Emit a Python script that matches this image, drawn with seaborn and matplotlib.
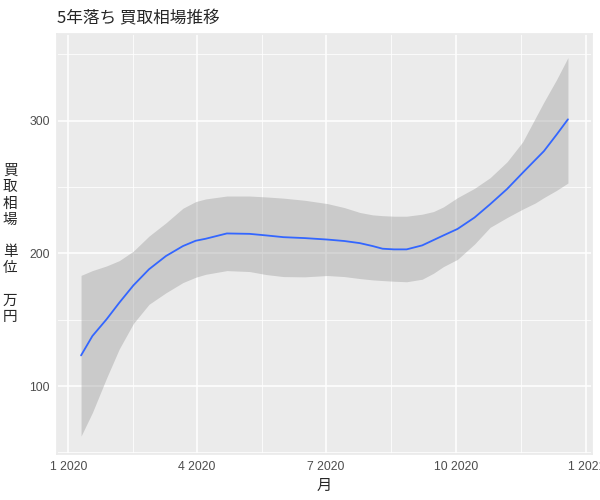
import pandas as pd
import seaborn as sns
import matplotlib.pyplot as plt
import matplotlib.dates as mdates
from matplotlib.ticker import FixedLocator

# loess fit and 95% band
dates = ["2020-01-10", "2020-01-18", "2020-01-28", "2020-02-06", "2020-02-16",
         "2020-02-27", "2020-03-10", "2020-03-22", "2020-03-31", "2020-04-07",
         "2020-04-22", "2020-05-08", "2020-05-20", "2020-06-01", "2020-06-16",
         "2020-07-02", "2020-07-14", "2020-07-25", "2020-08-03", "2020-08-10",
         "2020-08-18", "2020-08-27", "2020-09-07", "2020-09-15", "2020-09-22",
         "2020-10-02", "2020-10-14", "2020-10-25", "2020-11-06", "2020-11-17",
         "2020-11-26", "2020-12-02", "2020-12-11", "2020-12-19"]
fit = [123.1, 137.7, 150.3, 162.8, 175.9, 188.0, 198.0, 205.5, 209.5, 211.0,
       215.0, 214.7, 213.5, 212.2, 211.5, 210.4, 209.3, 207.7, 205.5, 203.5,
       203.0, 203.0, 206.0, 210.0, 213.5, 218.4, 227.0, 237.0, 248.5, 260.7,
       270.5, 277.0, 289.5, 301.0]
lower = [62.3, 80.0, 106.0, 128.0, 147.2, 161.6, 170.3, 178.0, 182.0, 184.2,
         187.0, 186.3, 184.0, 182.5, 182.3, 183.3, 182.5, 181.0, 180.0, 179.5,
         179.0, 178.6, 180.5, 185.0, 190.0, 195.5, 207.0, 219.6, 227.0, 233.3,
         238.0, 242.0, 247.5, 253.0]
upper = [183.4, 187.0, 190.5, 194.5, 201.7, 213.0, 223.0, 234.0, 239.0, 241.0,
         243.2, 243.2, 242.5, 241.6, 240.0, 237.5, 234.5, 230.8, 229.0, 228.4,
         228.0, 228.0, 229.5, 231.5, 235.0, 242.0, 249.0, 257.0, 269.0, 284.0,
         302.0, 314.0, 331.0, 347.5]

df = pd.DataFrame({"月": pd.to_datetime(dates), "fit": fit, "lo": lower, "hi": upper})

sns.set_theme(style="darkgrid", rc={
    "axes.facecolor": "#EBEBEB",
    "grid.color": "white",
    "axes.edgecolor": "#EBEBEB",
})
plt.rcParams['font.family'] = ['Noto Sans CJK JP', 'DejaVu Sans']

fig, ax = plt.subplots(figsize=(6, 5), dpi=100)
fig.subplots_adjust(left=57/600, right=592/600, top=1-34/500, bottom=1-454/500)

ax.fill_between(df["月"], df["lo"], df["hi"], color="#999999", alpha=0.4, linewidth=0)
sns.lineplot(data=df, x="月", y="fit", color="#3366FF", linewidth=1.3, ax=ax)

ax.set_xlim(pd.Timestamp("2019-12-24"), pd.Timestamp("2021-01-05"))
ax.set_ylim(48.8, 365.3)

major = pd.to_datetime(["2020-01-01", "2020-04-01", "2020-07-01", "2020-10-01", "2021-01-01"])
mnum = mdates.date2num(major)
ax.xaxis.set_major_locator(FixedLocator(mnum))
ax.xaxis.set_minor_locator(FixedLocator((mnum[:-1] + mnum[1:]) / 2))
ax.set_xticklabels([f"{d.month} {d.year}" for d in major])
ax.set_yticks([100, 200, 300])
ax.yaxis.set_minor_locator(FixedLocator([50, 150, 250, 350]))

ax.grid(which="major", color="white", linewidth=1.1)
ax.grid(which="minor", color="white", linewidth=0.55)
ax.tick_params(which="major", length=3, width=0.8, color="#333333",
               labelsize=8.8, labelcolor="#4D4D4D", pad=2)
ax.tick_params(which="minor", length=0)
for lab in ax.get_xticklabels() + ax.get_yticklabels():
    lab.set_family("Liberation Sans")

ax.set_xlabel("月", fontsize=11, labelpad=3)
ax.set_ylabel("買\n取\n相\n場\n\n単\n位\n\n万\n円", fontsize=10.5, rotation=0,
              linespacing=1.2, labelpad=14, va="center")
ax.set_title("5年落ち 買取相場推移", fontsize=12, loc="left", pad=8)

fig.savefig("out.png", dpi=100)
